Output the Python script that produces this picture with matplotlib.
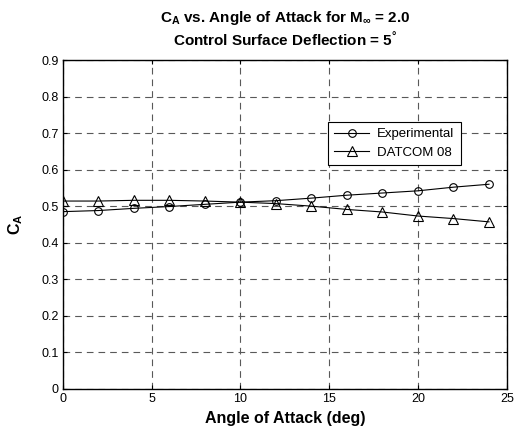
import numpy as np
import matplotlib
matplotlib.use("Agg")
import matplotlib.pyplot as plt

plt.rcParams['font.family'] = ['Liberation Sans', 'DejaVu Sans']
plt.rcParams['mathtext.fontset'] = 'custom'
plt.rcParams['mathtext.rm'] = 'Liberation Sans:bold'
plt.rcParams['mathtext.it'] = 'Liberation Sans:bold'
plt.rcParams['mathtext.bf'] = 'Liberation Sans:bold'

# angle of attack (deg)
alpha = [0, 2, 4, 6, 8, 10, 12, 14, 16, 18, 20, 22, 24]
# axial force coefficient
ca_exp = [0.485, 0.488, 0.494, 0.499, 0.505, 0.511, 0.515, 0.522, 0.530, 0.536, 0.542, 0.552, 0.560]
ca_datcom = [0.514, 0.514, 0.516, 0.516, 0.514, 0.511, 0.507, 0.500, 0.491, 0.484, 0.473, 0.466, 0.457]

xticks = [0, 5, 10, 15, 20, 25]
yticks = [0, 0.1, 0.2, 0.3, 0.4, 0.5, 0.6, 0.7, 0.8, 0.9]

fig = plt.figure(figsize=(5.15, 4.32), dpi=100)
ax = fig.add_axes([0.122, 0.100, 0.862, 0.761])

ax.plot(alpha, ca_exp, color='black', lw=0.8, marker='o', ms=5.5,
        mfc='none', mec='black', mew=0.8, label='Experimental')
ax.plot(alpha, ca_datcom, color='black', lw=0.8, marker='^', ms=6.5,
        mfc='none', mec='black', mew=0.8, label='DATCOM 08')

ax.set_xlim(0, 25)
ax.set_ylim(0, 0.9)
ax.set_xticks(xticks)
ax.set_yticks(yticks)
ax.set_xticklabels([str(t) for t in xticks])
ax.set_yticklabels(['0'] + [f'{t:.1f}' for t in yticks[1:]])
ax.tick_params(direction='in', length=3, width=0.8, labelsize=9,
               top=True, right=True, pad=3)
ax.grid(True, color='0.35', linestyle=(0, (6, 4.5)), lw=0.8)
for s in ax.spines.values():
    s.set_linewidth(1.0)

ax.set_xlabel('Angle of Attack (deg)', fontsize=11.5, fontweight='bold', labelpad=4)
ax.set_ylabel(r'C$_A$', fontsize=11.5, fontweight='bold', labelpad=12)

# two-line title
fig.text(0.553, 1 - 22 / 432, 'C$_A$ vs. Angle of Attack for M$_\\infty$ = 2.0',
         ha='center', va='baseline', fontsize=11, fontweight='bold')
fig.text(0.553, 1 - 46 / 432, 'Control Surface Deflection = 5$^{°}$',
         ha='center', va='baseline', fontsize=11, fontweight='bold')

leg = ax.legend(loc='lower left', bbox_to_anchor=(0.597, 0.68), fontsize=9.5,
                frameon=True, fancybox=False, edgecolor='black', framealpha=1,
                borderaxespad=0, borderpad=0.5, handlelength=2.6,
                handletextpad=0.6, labelspacing=0.45)
leg.get_frame().set_linewidth(0.8)

fig.savefig('out.png', dpi=100)
